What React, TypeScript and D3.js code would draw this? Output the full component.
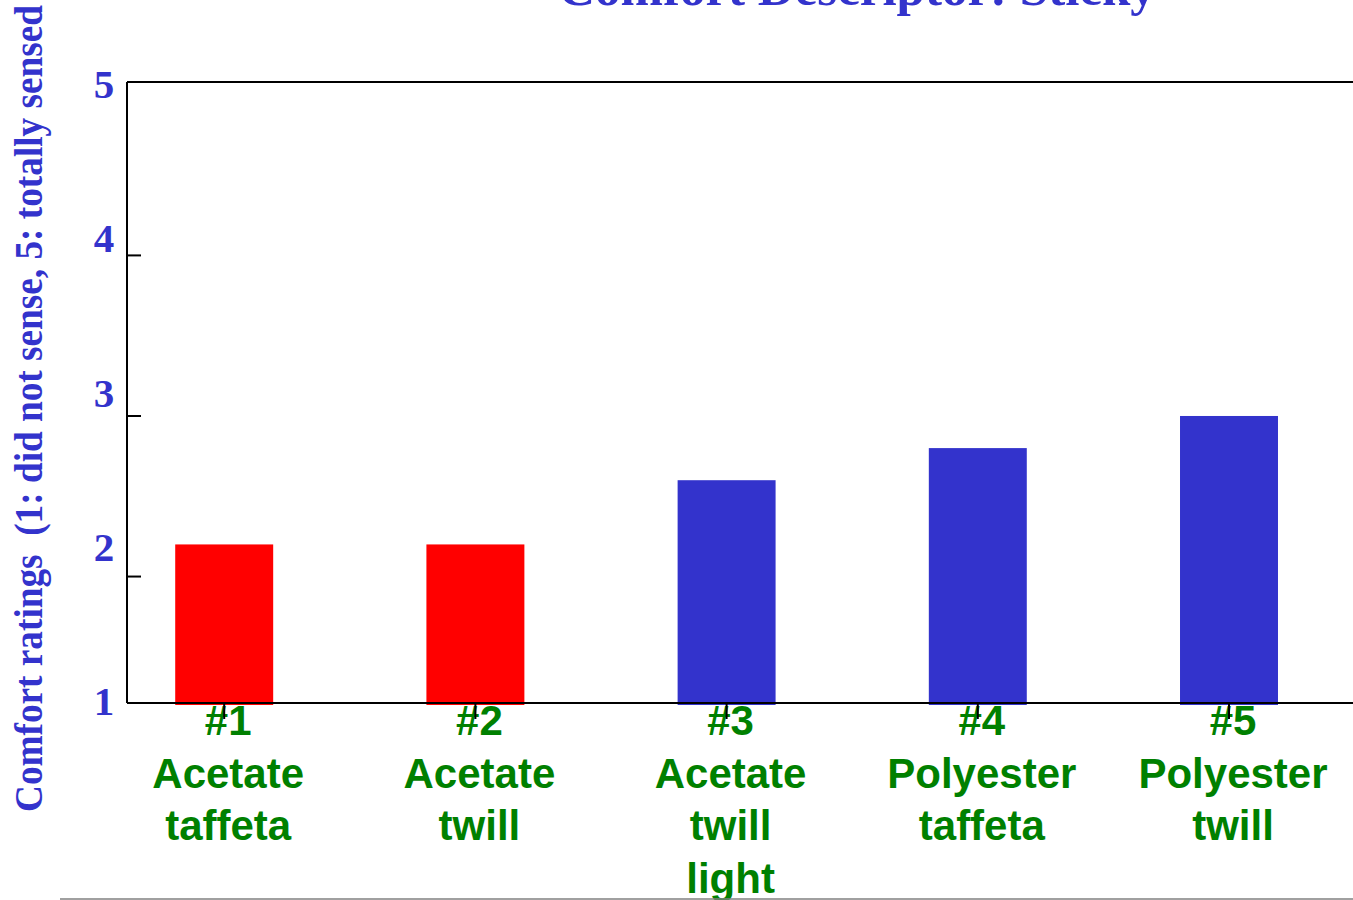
import React from "react";
import * as d3 from "d3";

const title = "Comfort Descriptor: Sticky";
const yAxisTitle = "Comfort ratings  (1: did not sense, 5: totally sensed";
const categoryIds = ["#1", "#2", "#3", "#4", "#5"];
const categoryNames = [
  ["Acetate", "taffeta"],
  ["Acetate", "twill"],
  ["Acetate", "twill", "light"],
  ["Polyester", "taffeta"],
  ["Polyester", "twill"],
];
const ratings = [2.2, 2.2, 2.6, 2.8, 3.0];
const barColors = ["#ff0000", "#ff0000", "#3333cc", "#3333cc", "#3333cc"];
const tickValues = [2, 3, 4];
const tickLabels = [1, 2, 3, 4, 5];

const W = 1353;
const H = 900;
const BLUE = "#3333cc";
const GREEN = "#008000";

export default function App() {
  const frameLeft = 127;
  const frameTop = 82;
  const frameRight = 1353;

  const y = d3.scaleLinear().domain([1.2, 5.08]).range([705, frameTop]);
  const axisY = y(1.2) - 2;
  // tick label placement (evenly spaced labels 1..5)
  const yLab = d3.scaleLinear().domain([1, 5]).range([715, 98]);

  const x = d3.scaleBand<string>().domain(categoryIds).range([98.6, 1354.6]).padding(0);
  const barW = x.bandwidth() * 0.39;
  const cx = (id: string) => (x(id) as number) + x.bandwidth() / 2;

  const serif = "'Liberation Serif', 'Times New Roman', serif";
  const sans = "'Liberation Sans', Arial, sans-serif";

  return (
    <svg
      width={W}
      height={H}
      style={{ position: "absolute", left: 0, top: 0, background: "#fff" }}
    >
      <rect x={0} y={0} width={W} height={H} fill="#fff" />
      {/* title */}
      <text
        x={857}
        y={5}
        textAnchor="middle"
        fontFamily={serif}
        fontWeight="bold"
        fontSize={51}
        fill={BLUE}
      >
        {title}
      </text>

      {/* y axis title */}
      <text
        transform={`translate(42,812) rotate(-90)`}
        fontFamily={serif}
        fontWeight="bold"
        fontSize={40}
        fill={BLUE}
        textLength={807}
        lengthAdjust="spacingAndGlyphs"
        style={{ whiteSpace: "pre" }}
      >
        {yAxisTitle}
      </text>

      {/* bars */}
      {ratings.map((v, i) => (
        <rect
          key={categoryIds[i]}
          x={cx(categoryIds[i]) - barW / 2}
          y={y(v)}
          width={barW}
          height={y(1.2) - y(v)}
          fill={barColors[i]}
        />
      ))}

      {/* frame */}
      <line x1={frameLeft} y1={frameTop} x2={frameRight} y2={frameTop} stroke="#000" strokeWidth={2} />
      <line x1={frameLeft} y1={frameTop} x2={frameLeft} y2={axisY} stroke="#000" strokeWidth={2} />
      <line x1={frameLeft} y1={axisY} x2={frameRight} y2={axisY} stroke="#000" strokeWidth={2} />

      {/* y ticks */}
      {tickValues.map((t) => (
        <line key={t} x1={frameLeft} x2={frameLeft + 14} y1={y(t)} y2={y(t)} stroke="#000" strokeWidth={2} />
      ))}
      {tickLabels.map((t) => (
        <text
          key={t}
          x={104}
          y={yLab(t)}
          textAnchor="middle"
          fontFamily={serif}
          fontWeight="bold"
          fontSize={41}
          fill={BLUE}
        >
          {t}
        </text>
      ))}

      {/* x labels */}
      {categoryIds.map((id, i) => (
        <text
          key={id}
          textAnchor="middle"
          fontFamily={sans}
          fontWeight="bold"
          fontSize={42}
          fill={GREEN}
        >
          {[id, ...categoryNames[i]].map((line, j) => (
            <tspan key={j} x={cx(id) + 4} y={735 + j * 52.5}>
              {line}
            </tspan>
          ))}
        </text>
      ))}

      {/* x ticks */}
      {categoryIds.map((id) => (
        <line key={id} x1={cx(id)} x2={cx(id)} y1={axisY} y2={axisY + 16} stroke="#000" strokeWidth={2} />
      ))}

      {/* bottom rule */}
      <line x1={60} y1={899} x2={W} y2={899} stroke="#808080" strokeWidth={1.5} />
    </svg>
  );
}
